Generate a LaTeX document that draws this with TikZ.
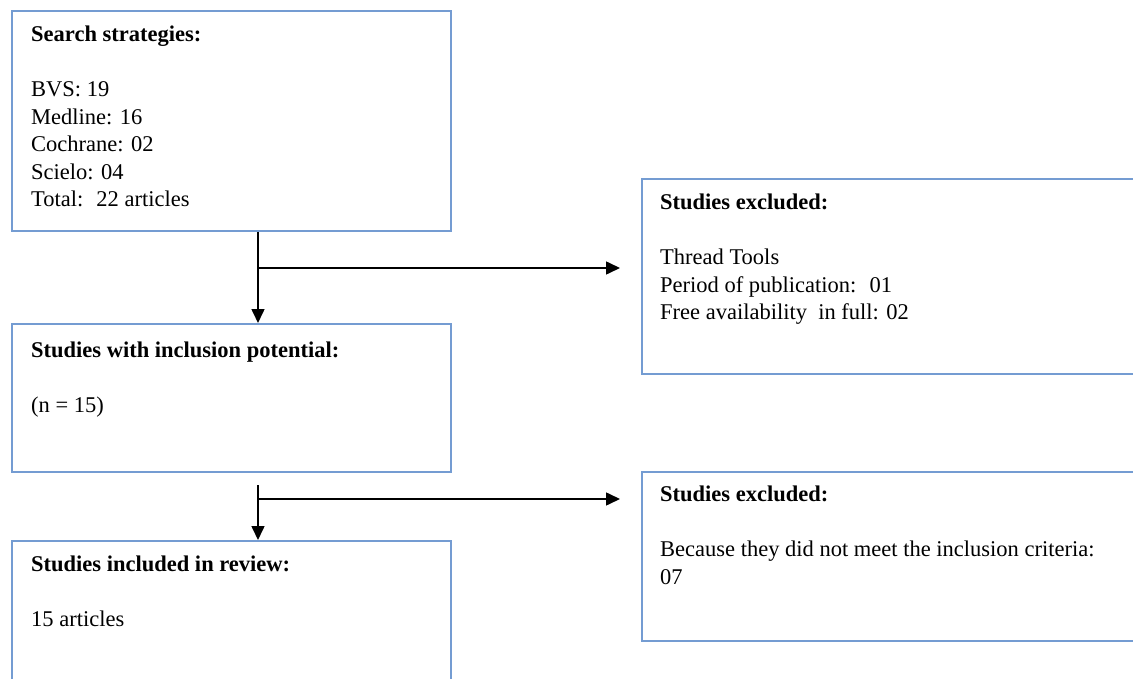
\documentclass[tikz,border=0pt]{standalone}
\usepackage{fontspec}
\setmainfont{Liberation Serif}
\usepackage{xcolor}
\usepackage{tikz}
\usetikzlibrary{positioning, calc, arrows.meta}
\definecolor{BoxBlue}{RGB}{116,156,210}
\tikzset{
    flowbox/.style={
        draw=BoxBlue, line width=1.8pt, fill=white, anchor=north west, inner sep=0pt
    },
    boxtext/.style={
        anchor=north west, align=left, inner sep=0pt,
        font=\fontsize{22.5}{27.5}\selectfont
    },
    ptr/.style={
        -{Triangle[length=14pt, width=13pt]}, line width=1.6pt, black
    }
}
\newcommand{\boxhead}[1]{\textbf{#1}\\[27.5pt]}

\begin{document}
\begin{tikzpicture}[x=1pt, y=-1pt]
    \useasboundingbox (0,0) rectangle (1133,679);

    % --- BOXES ---
    \node[flowbox, minimum width=439pt, minimum height=220pt] (search) at (11,10) {};
    \node[flowbox, minimum width=520pt, minimum height=195pt] (excl1) at (641,178) {};
    \node[flowbox, minimum width=439pt, minimum height=148pt] (potential) at (11,323) {};
    \node[flowbox, minimum width=520pt, minimum height=169pt] (excl2) at (641,471) {};
    \node[flowbox, minimum width=439pt, minimum height=160pt] (included) at (11,540) {};

    % --- TEXTS ---
    \node[boxtext] (searchtxt) at ([shift={(20,16)}]search.north west)
        {\boxhead{Search strategies:}BVS: 19\\Medline: 16\\Cochrane: 02\\Scielo: 04\\Total:~ 22 articles};
    \node[boxtext] (excl1txt) at ([shift={(19,16)}]excl1.north west)
        {\boxhead{Studies excluded:}Thread Tools\\Period of publication:~ 01\\Free availability~ in full: 02};
    \node[boxtext] (potentialtxt) at ([shift={(20,19)}]potential.north west)
        {\boxhead{Studies with inclusion potential:}(n = 15)};
    \node[boxtext] (excl2txt) at ([shift={(19,15)}]excl2.north west)
        {\boxhead{Studies excluded:}Because they did not meet the inclusion criteria:\\07};
    \node[boxtext] (includedtxt) at ([shift={(20,16)}]included.north west)
        {\boxhead{Studies included in review:}15 articles};

    % --- ARROWS ---
    \coordinate (tap1) at (258,268);
    \coordinate (top2) at (258,485);
    \coordinate (tap2) at (258,499);

    \draw[ptr] (search.south -| tap1) -- (potential.north -| tap1);
    \draw[ptr] (tap1) -- ([xshift=-21pt]tap1 -| excl1.west);
    \draw[ptr] (top2) -- (included.north -| top2);
    \draw[ptr] (tap2) -- ([xshift=-21pt]tap2 -| excl2.west);

\end{tikzpicture}
\end{document}
